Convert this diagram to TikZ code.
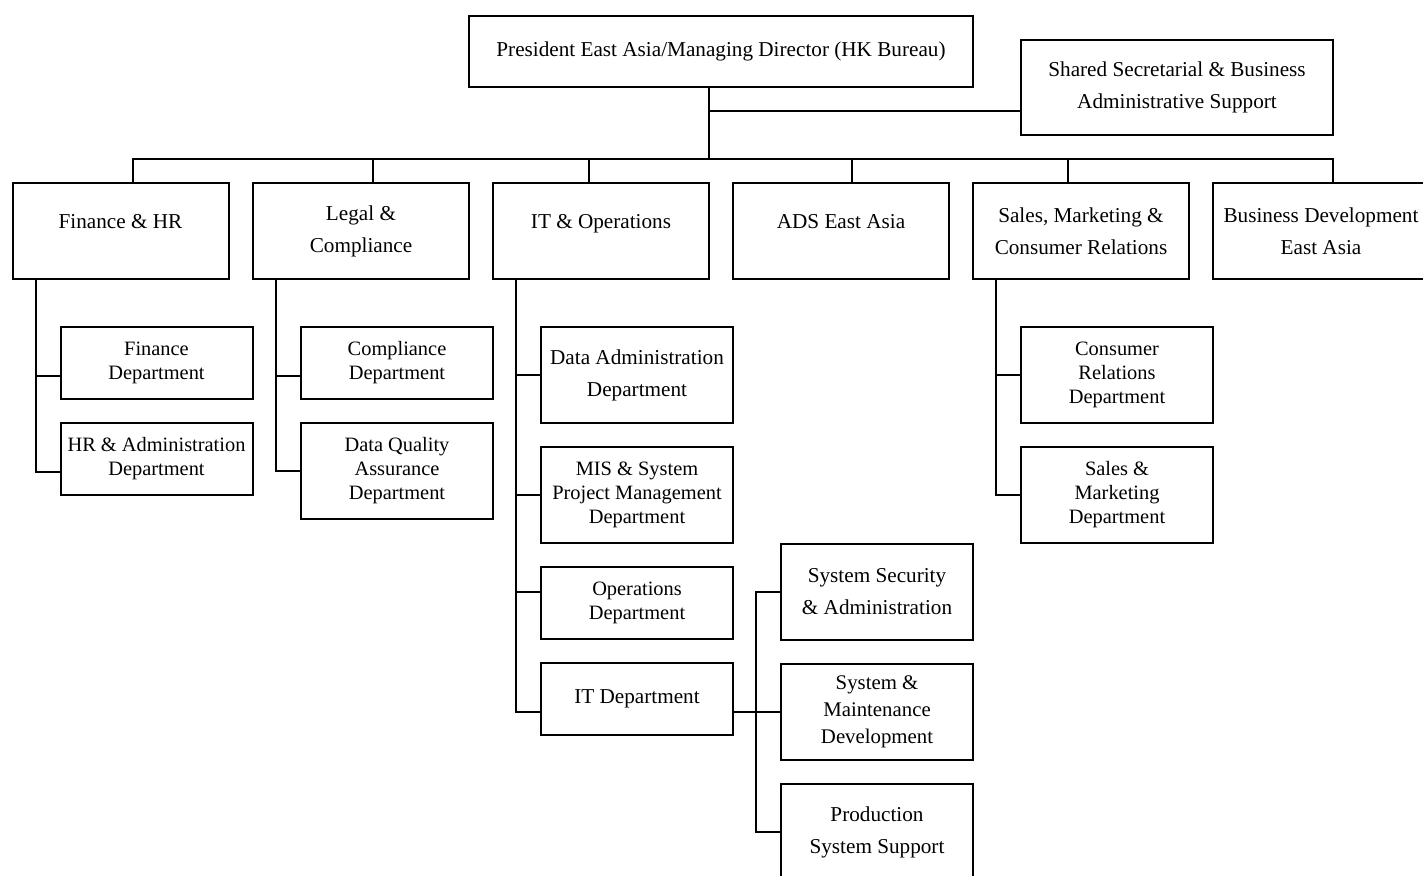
\documentclass[tikz,border=0pt]{standalone}
\usepackage{fontspec}
\setmainfont{Liberation Serif}

\begin{document}
\begin{tikzpicture}
[-,line width=1pt,x=0.5pt,y=-0.5pt,%
  every node/.style={shape=rectangle,draw,align=center,inner sep=0pt},%
  big/.style={font=\fontsize{10.6}{16}\selectfont},%
  small/.style={font=\fontsize{10.2}{12}\selectfont},%
  unit/.style={big,minimum width=108pt,minimum height=48pt},%
  dept/.style={small,minimum width=96pt,minimum height=36pt},%
  tall/.style={minimum width=96pt,minimum height=48pt}]
\useasboundingbox (0,0) rectangle (1423,875);
\node[big,minimum width=252pt,minimum height=35.5pt] (pres) at (721,51.5)
  {President East Asia/Managing Director (HK Bureau)};
\node[big,minimum width=156pt,minimum height=47.5pt] (shared) at (1177,87.5)
  {Shared Secretarial \& Business\\Administrative Support};
\node[unit] (fin) at (120.5,231) {Finance \& HR\\[-6pt]~};
\node[unit] (legal) at (361,231) {Legal \&\\Compliance};
\node[unit] (itops) at (601,231) {IT \& Operations\\[-6pt]~};
\node[unit] (ads) at (841,231) {ADS East Asia\\[-6pt]~};
\node[unit] (sales) at (1081,231) {Sales, Marketing \&\\Consumer Relations};
\node[unit] (bizdev) at (1321,231) {Business Development\\East Asia};
\node[dept] (findept) at (156.5,363) {Finance\\Department};
\node[dept] (hrdept) at (156.5,459) {HR \& Administration\\Department};
\node[dept] (compdept) at (397,363) {Compliance\\Department};
\node[dept,tall] (dqadept) at (397,471) {Data Quality\\Assurance\\Department};
\node[tall,big] (dataadm) at (637,375) {Data Administration\\Department};
\node[dept,tall] (misdept) at (637,495) {MIS \& System\\Project Management\\Department};
\node[dept] (opsdept) at (637,603) {Operations\\Department};
\node[dept,big] (itdept) at (637,699) {IT Department};
\node[tall,big] (secadm) at (877,592) {System Security\\\& Administration};
\node[dept,tall,font=\fontsize{10.4}{13.5}\selectfont] (sysmaint) at (877,712)
  {System \&\\Maintenance\\Development};
\node[tall,big] (prodsup) at (877,832) {Production\\System Support};
\node[dept,tall] (crdept) at (1117,375) {Consumer\\Relations\\Department};
\node[dept,tall] (smdept) at (1117,495) {Sales \&\\Marketing\\Department};
\coordinate (bus) at (709,159);
\coordinate (sec) at (709,111);
\draw (pres.south -| bus) -- (bus);
\draw (sec) -- (sec -| shared.west);
\foreach \unit/\shift in {fin/6pt,legal/6pt,itops/-6pt,ads/5.5pt,sales/-6.5pt,bizdev/6pt}
  \draw ([xshift=\shift]\unit.north) |- (bus);
\draw ([xshift=12pt]fin.south west) |- ([yshift=-6.5pt]findept.west);
\draw ([xshift=12pt]fin.south west) |- ([yshift=-6.5pt]hrdept.west);
\draw ([xshift=12pt]legal.south west) |- ([yshift=-6.5pt]compdept.west);
\draw ([xshift=12pt]legal.south west) |- (dqadept.west);
\draw ([xshift=12pt]itops.south west) |- (dataadm.west);
\draw ([xshift=12pt]itops.south west) |- (misdept.west);
\draw ([xshift=12pt]itops.south west) |- ([yshift=5.5pt]opsdept.west);
\draw ([xshift=12pt]itops.south west) |- ([yshift=-6.5pt]itdept.west);
\draw ([xshift=12pt]sales.south west) |- (crdept.west);
\draw ([xshift=12pt]sales.south west) |- (smdept.west);
\draw ([yshift=-6.5pt]itdept.east) -- (sysmaint.west);
\draw (secadm.west) -- ++(-12pt,0) |- (prodsup.west);
\end{tikzpicture}
\end{document}
